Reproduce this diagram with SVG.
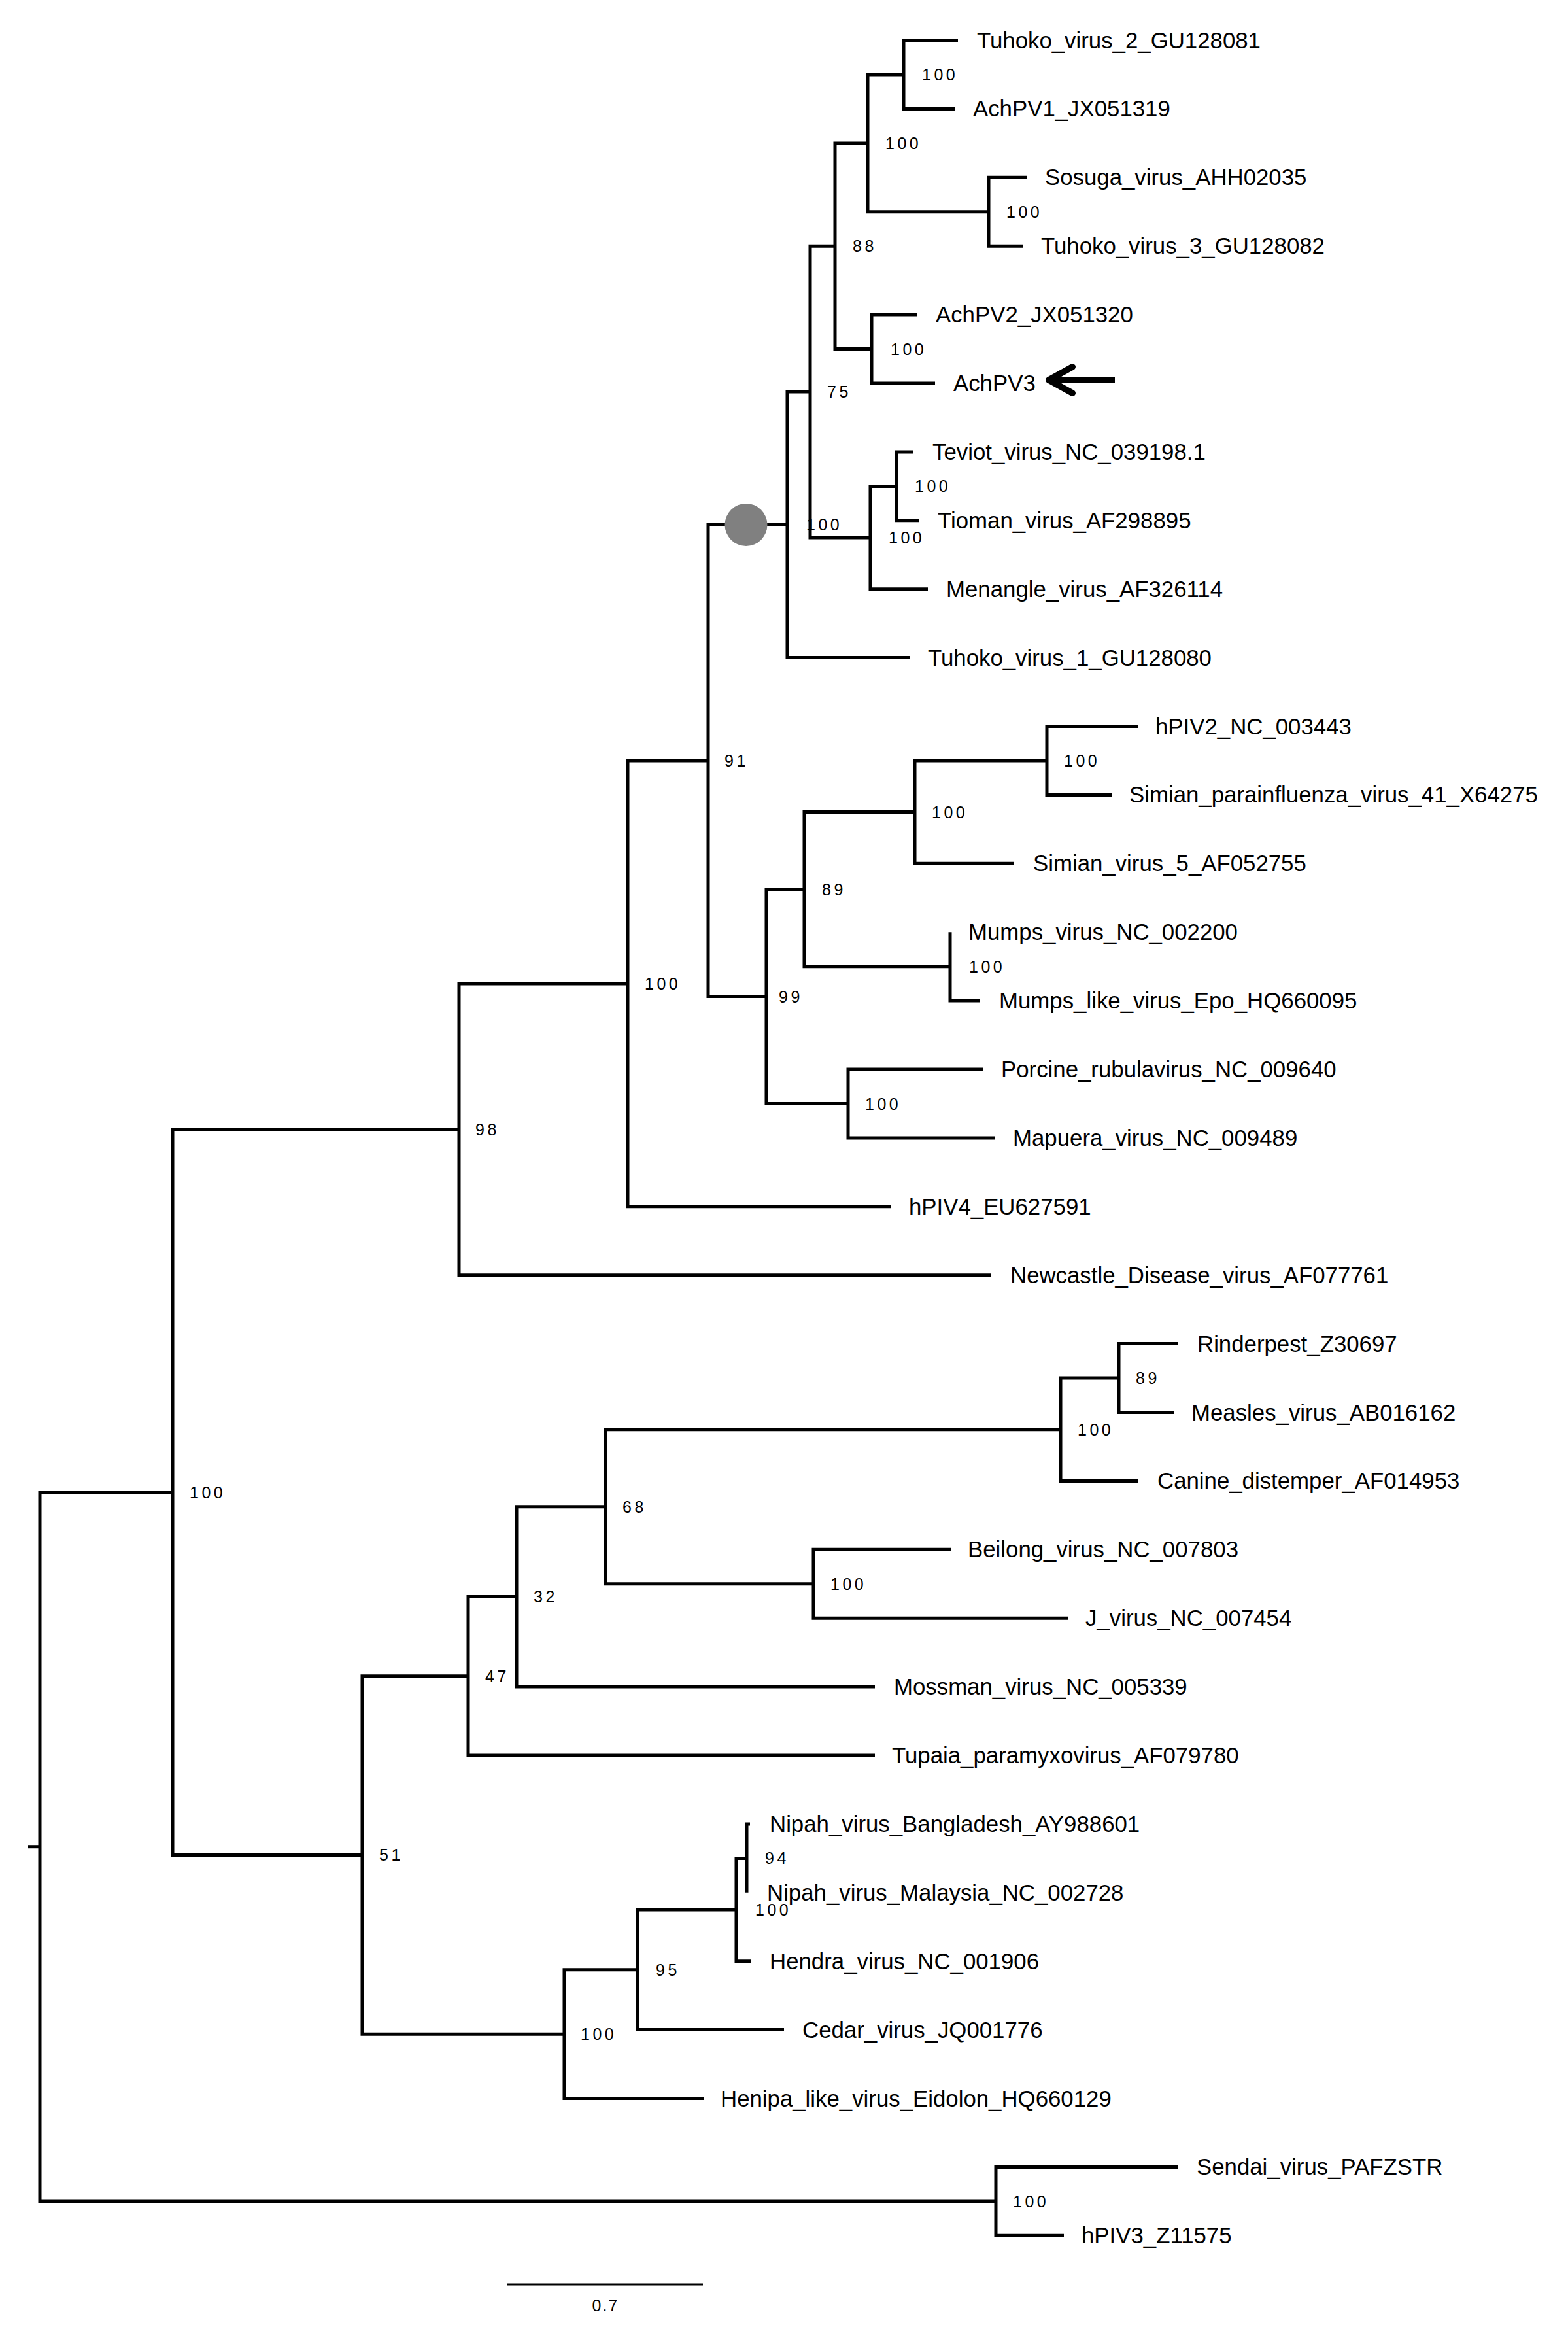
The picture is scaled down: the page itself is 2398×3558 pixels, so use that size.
<svg xmlns="http://www.w3.org/2000/svg" width="2398" height="3558" viewBox="0 0 2398 3558">
<style>
.br{fill:none;stroke:#000;stroke-width:5;stroke-linejoin:miter;stroke-linecap:butt}
.lf{font-family:"Liberation Sans",Arial,sans-serif;font-size:34.8px;fill:#000}
.bs{font-family:"Liberation Sans",Arial,sans-serif;font-size:25px;letter-spacing:4.5px;fill:#000}
</style>
<rect width="2398" height="3558" fill="#fff"/>
<g id="connectors">
<path class="br" d="M1465,61.5 H1382 V166.4 H1460"/>
<path class="br" d="M1570,271.3 H1512 V376.2 H1564"/>
<path class="br" d="M1382,114 H1327 V323.8 H1512"/>
<path class="br" d="M1403,481.1 H1333 V586 H1430"/>
<path class="br" d="M1327,218.9 H1277 V533.6 H1333"/>
<path class="br" d="M1397,690.9 H1371 V795.8 H1406"/>
<path class="br" d="M1371,743.4 H1331 V900.7 H1419"/>
<path class="br" d="M1277,376.2 H1239 V822 H1331"/>
<path class="br" d="M1239,599.1 H1204 V1005.6 H1391"/>
<path class="br" d="M1740,1110.5 H1601 V1215.4 H1700"/>
<path class="br" d="M1601,1163 H1399 V1320.3 H1550"/>
<path class="br" d="M1453,1425.2 V1530.1 H1499"/>
<path class="br" d="M1399,1241.6 H1230 V1477.7 H1453"/>
<path class="br" d="M1503,1635 H1297 V1739.9 H1521"/>
<path class="br" d="M1230,1359.7 H1172 V1687.5 H1297"/>
<path class="br" d="M1204,802.4 H1083 V1523.6 H1172"/>
<path class="br" d="M1083,1163 H960 V1844.8 H1363"/>
<path class="br" d="M960,1503.9 H702 V1949.7 H1515"/>
<path class="br" d="M1802,2054.6 H1711 V2159.5 H1795"/>
<path class="br" d="M1711,2107.1 H1622 V2264.4 H1741"/>
<path class="br" d="M1454,2369.3 H1244 V2474.2 H1633"/>
<path class="br" d="M1622,2185.7 H926 V2421.8 H1244"/>
<path class="br" d="M926,2303.8 H790 V2579.1 H1338"/>
<path class="br" d="M790,2441.4 H716 V2684 H1338"/>
<path class="br" d="M1147,2788.9 H1142 V2893.8"/>
<path class="br" d="M1142,2841.4 H1126 V2998.7 H1148"/>
<path class="br" d="M1126,2920 H975 V3103.6 H1199"/>
<path class="br" d="M975,3011.8 H863 V3208.5 H1076"/>
<path class="br" d="M716,2562.7 H554 V3110.2 H863"/>
<path class="br" d="M702,1726.8 H264 V2836.4 H554"/>
<path class="br" d="M1802,3313.4 H1523 V3418.3 H1627"/>
<path class="br" d="M264,2281.6 H61 V3365.9 H1523"/>
<path class="br" d="M43,2823.7 H61"/>
</g>
<g id="node-circle"><circle cx="1141" cy="802.4" r="32.5" fill="#808080"/></g>
<g id="arrow" fill="none" stroke="#000" stroke-width="10">
<path d="M1605,581 H1705"/>
<path d="M1640,561 L1604,581 L1640,601" stroke-linecap="round" stroke-linejoin="round"/>
</g>
<g id="leaves" class="lf">
<g id="leaf-0"><text x="1494" y="73.5">Tuhoko_virus_2_GU128081</text></g>
<g id="leaf-1"><text x="1488" y="178.4">AchPV1_JX051319</text></g>
<g id="leaf-2"><text x="1598" y="283.3">Sosuga_virus_AHH02035</text></g>
<g id="leaf-3"><text x="1592" y="388.2">Tuhoko_virus_3_GU128082</text></g>
<g id="leaf-4"><text x="1431" y="493.1">AchPV2_JX051320</text></g>
<g id="leaf-5"><text x="1458" y="598">AchPV3</text></g>
<g id="leaf-6"><text x="1426" y="702.9">Teviot_virus_NC_039198.1</text></g>
<g id="leaf-7"><text x="1434" y="807.8">Tioman_virus_AF298895</text></g>
<g id="leaf-8"><text x="1447" y="912.7">Menangle_virus_AF326114</text></g>
<g id="leaf-9"><text x="1419" y="1017.6">Tuhoko_virus_1_GU128080</text></g>
<g id="leaf-10"><text x="1767" y="1122.5">hPIV2_NC_003443</text></g>
<g id="leaf-11"><text x="1727" y="1227.4">Simian_parainfluenza_virus_41_X64275</text></g>
<g id="leaf-12"><text x="1580" y="1332.3">Simian_virus_5_AF052755</text></g>
<g id="leaf-13"><text x="1481" y="1437.2">Mumps_virus_NC_002200</text></g>
<g id="leaf-14"><text x="1528" y="1542.1">Mumps_like_virus_Epo_HQ660095</text></g>
<g id="leaf-15"><text x="1531" y="1647">Porcine_rubulavirus_NC_009640</text></g>
<g id="leaf-16"><text x="1549" y="1751.9">Mapuera_virus_NC_009489</text></g>
<g id="leaf-17"><text x="1390" y="1856.8">hPIV4_EU627591</text></g>
<g id="leaf-18"><text x="1545" y="1961.7">Newcastle_Disease_virus_AF077761</text></g>
<g id="leaf-19"><text x="1831" y="2066.6">Rinderpest_Z30697</text></g>
<g id="leaf-20"><text x="1822" y="2171.5">Measles_virus_AB016162</text></g>
<g id="leaf-21"><text x="1770" y="2276.4">Canine_distemper_AF014953</text></g>
<g id="leaf-22"><text x="1480" y="2381.3">Beilong_virus_NC_007803</text></g>
<g id="leaf-23"><text x="1660" y="2486.2">J_virus_NC_007454</text></g>
<g id="leaf-24"><text x="1367" y="2591.1">Mossman_virus_NC_005339</text></g>
<g id="leaf-25"><text x="1364" y="2696">Tupaia_paramyxovirus_AF079780</text></g>
<g id="leaf-26"><text x="1177" y="2800.9">Nipah_virus_Bangladesh_AY988601</text></g>
<g id="leaf-27"><text x="1173" y="2905.8">Nipah_virus_Malaysia_NC_002728</text></g>
<g id="leaf-28"><text x="1177" y="3010.7">Hendra_virus_NC_001906</text></g>
<g id="leaf-29"><text x="1227" y="3115.6">Cedar_virus_JQ001776</text></g>
<g id="leaf-30"><text x="1102" y="3220.5">Henipa_like_virus_Eidolon_HQ660129</text></g>
<g id="leaf-31"><text x="1830" y="3325.4">Sendai_virus_PAFZSTR</text></g>
<g id="leaf-32"><text x="1654" y="3430.3">hPIV3_Z11575</text></g>
</g>
<g id="support" class="bs">
<g id="node-A"><text x="1410" y="123">100</text></g>
<g id="node-B"><text x="1539" y="332.8">100</text></g>
<g id="node-C"><text x="1354" y="227.9">100</text></g>
<g id="node-D"><text x="1362" y="542.6">100</text></g>
<g id="node-E"><text x="1304" y="385.2">88</text></g>
<g id="node-F"><text x="1399" y="752.4">100</text></g>
<g id="node-G"><text x="1359" y="831">100</text></g>
<g id="node-H"><text x="1265" y="608.1">75</text></g>
<g id="node-I"><text x="1233" y="811.4">100</text></g>
<g id="node-J1"><text x="1627" y="1172">100</text></g>
<g id="node-K"><text x="1425" y="1250.6">100</text></g>
<g id="node-L"><text x="1482" y="1486.7">100</text></g>
<g id="node-M"><text x="1257" y="1368.7">89</text></g>
<g id="node-N"><text x="1323" y="1696.5">100</text></g>
<g id="node-O"><text x="1191" y="1532.6">99</text></g>
<g id="node-P"><text x="1108" y="1172">91</text></g>
<g id="node-Q"><text x="986" y="1512.9">100</text></g>
<g id="node-R"><text x="727" y="1735.8">98</text></g>
<g id="node-S1"><text x="1737" y="2116.1">89</text></g>
<g id="node-S"><text x="1648" y="2194.7">100</text></g>
<g id="node-T"><text x="1270" y="2430.8">100</text></g>
<g id="node-U"><text x="952" y="2312.8">68</text></g>
<g id="node-V"><text x="816" y="2450.4">32</text></g>
<g id="node-W"><text x="742" y="2571.7">47</text></g>
<g id="node-X1"><text x="1170" y="2850.4">94</text></g>
<g id="node-X"><text x="1155" y="2929">100</text></g>
<g id="node-Y"><text x="1003" y="3020.8">95</text></g>
<g id="node-Z"><text x="888" y="3119.2">100</text></g>
<g id="node-AA"><text x="580" y="2845.4">51</text></g>
<g id="node-AB"><text x="290" y="2290.6">100</text></g>
<g id="node-AC"><text x="1549" y="3374.9">100</text></g>
</g>
<g id="scale-bar">
<path d="M776,3493 H1075" stroke="#000" stroke-width="3" fill="none"/>
<text x="926" y="3534" text-anchor="middle" font-family="Liberation Sans, Arial, sans-serif" font-size="25" letter-spacing="2">0.7</text>
</g>
</svg>
